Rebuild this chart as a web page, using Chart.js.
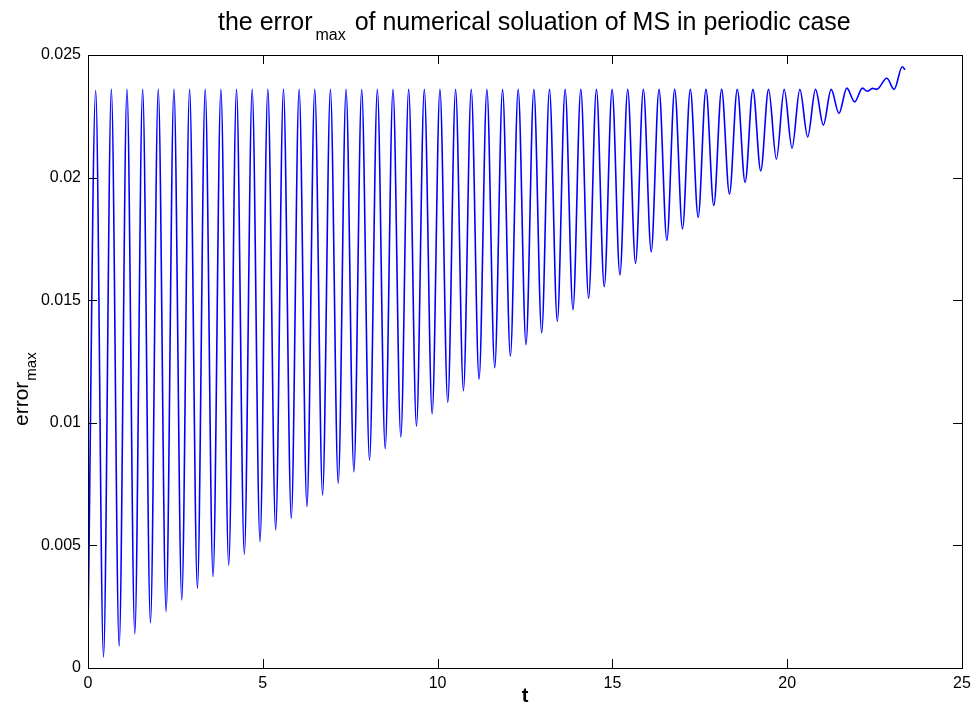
<!DOCTYPE html>
<html>
<head>
<meta charset="utf-8">
<script src="https://cdn.jsdelivr.net/npm/chart.js@4"></script>
<style>
  body { margin: 0; background: #fff; }
  #chart { display: block; }
</style>
</head>
<body>
<canvas id="chart" width="977" height="704"></canvas>
<script>
// extrema of error_max(t): start, then peak / trough pairs, then the tail
var tValues = [
  0,
  0.22, 0.444,  0.668, 0.892,  1.115, 1.339,  1.563, 1.787,  2.010, 2.234,
  2.458, 2.682,  2.906, 3.130,  3.353, 3.577,  3.801, 4.025,  4.248, 4.472,
  4.696, 4.920,  5.144, 5.368,  5.591, 5.815,  6.039, 6.263,  6.486, 6.710,
  6.934, 7.158,  7.382, 7.606,  7.829, 8.053,  8.277, 8.501,  8.724, 8.948,
  9.172, 9.396,  9.620, 9.844,  10.067, 10.291,  10.515, 10.739,  10.962, 11.186,
  11.410, 11.634,  11.858, 12.082,  12.305, 12.529,  12.753, 12.977,  13.200, 13.424,
  13.648, 13.872,  14.096, 14.320,  14.543, 14.767,  14.991, 15.215,  15.438, 15.662,
  15.886, 16.110,  16.334, 16.558,  16.781, 17.005,  17.229, 17.453,  17.676, 17.900,
  18.124, 18.348,  18.572, 18.796,  19.019, 19.243,  19.467, 19.691,  19.914, 20.138,
  20.362, 20.586,  20.810, 21.034,  21.257, 21.481,  21.705, 21.929,
  22.152, 22.29, 22.44, 22.56, 22.85, 23.06, 23.29, 23.37
];
var errorValues = [
  0.0015,
  0.02355, 0.00045,  0.0236, 0.00090,  0.0236, 0.00139,  0.0236, 0.00184,  0.0236, 0.00230,
  0.0236, 0.00278,  0.0236, 0.00326,  0.0236, 0.00373,  0.0236, 0.00420,  0.0236, 0.00464,
  0.0236, 0.00516,  0.0236, 0.00564,  0.0236, 0.00611,  0.0236, 0.00659,  0.0236, 0.00706,
  0.0236, 0.00753,  0.0236, 0.00800,  0.0236, 0.00847,  0.0236, 0.00895,  0.0236, 0.00942,
  0.0236, 0.00986,  0.0236, 0.01036,  0.0236, 0.01083,  0.0236, 0.01131,  0.0236, 0.01178,
  0.0236, 0.01225,  0.0236, 0.01272,  0.0236, 0.01319,  0.0236, 0.01367,  0.0236, 0.01414,
  0.0236, 0.01461,  0.0236, 0.01508,  0.0236, 0.01555,  0.0236, 0.01603,  0.0236, 0.01650,
  0.0236, 0.01697,  0.0236, 0.01744,  0.0236, 0.01791,  0.0236, 0.01839,  0.0236, 0.01886,
  0.0236, 0.01933,  0.0236, 0.01980,  0.0236, 0.02027,  0.0236, 0.02075,  0.0236, 0.02120,
  0.0236, 0.02166,  0.0236, 0.02214,  0.0236, 0.02262,  0.02365, 0.02309,
  0.02365, 0.02352, 0.02364, 0.02360, 0.02405, 0.02360, 0.02452, 0.02440
];
var xTicks = [0, 5, 10, 15, 20, 25];
var yTicks = [0, 0.005, 0.01, 0.015, 0.02, 0.025];

var FONT = "'Liberation Sans', Arial, Helvetica, sans-serif";

var points = [];
for (var i = 0; i < tValues.length; i++) {
    points.push({ x: tValues[i], y: errorValues[i] });
}

// box with inward ticks on all four sides, plus the title and axis labels
var matlabFrame = {
    id: 'matlabFrame',
    afterDraw: function (chart) {
        var ctx = chart.ctx;
        var a = chart.chartArea;
        var xs = chart.scales.x;
        var ys = chart.scales.y;
        var len = 9;
        ctx.save();
        ctx.strokeStyle = '#000';
        ctx.lineWidth = 1;
        ctx.strokeRect(Math.round(a.left) + 0.5, Math.round(a.top) + 0.5,
            Math.round(a.right - a.left), Math.round(a.bottom - a.top));
        ctx.beginPath();
        xs.ticks.forEach(function (t) {
            var px = Math.round(xs.getPixelForValue(t.value)) + 0.5;
            ctx.moveTo(px, a.bottom);
            ctx.lineTo(px, a.bottom - len);
            ctx.moveTo(px, a.top);
            ctx.lineTo(px, a.top + len);
        });
        ys.ticks.forEach(function (t) {
            var py = Math.round(ys.getPixelForValue(t.value)) + 0.5;
            ctx.moveTo(a.left, py);
            ctx.lineTo(a.left + len, py);
            ctx.moveTo(a.right, py);
            ctx.lineTo(a.right - len, py);
        });
        ctx.stroke();

        ctx.fillStyle = '#000';
        ctx.textBaseline = 'alphabetic';
        ctx.textAlign = 'left';

        // title with subscript
        var tx = 218, ty = 30;
        ctx.font = '25px ' + FONT;
        ctx.fillText('the error', tx, ty);
        tx += ctx.measureText('the error').width + 3;
        ctx.font = '16px ' + FONT;
        ctx.fillText('max', tx, ty + 10);
        tx += ctx.measureText('max').width + 2;
        ctx.font = '25px ' + FONT;
        ctx.fillText(' of numerical soluation of MS in periodic case', tx, ty);

        // y label, rotated
        ctx.save();
        ctx.translate(28, 426);
        ctx.rotate(-Math.PI / 2);
        ctx.font = '21px ' + FONT;
        ctx.fillText('error', 0, 0);
        var w = ctx.measureText('error').width + 1;
        ctx.font = '15px ' + FONT;
        ctx.fillText('max', w, 8);
        ctx.restore();

        // x label
        ctx.font = 'bold 20px ' + FONT;
        ctx.textAlign = 'center';
        ctx.fillText('t', (a.left + a.right) / 2, 702);
        ctx.restore();
    }
};

new Chart(document.getElementById('chart'), {
    type: 'line',
    data: {
        datasets: [{
            data: points,
            borderColor: '#0000ff',
            borderWidth: 1.6,
            pointRadius: 0,
            fill: false,
            cubicInterpolationMode: 'monotone'
        }]
    },
    options: {
        responsive: false,
        animation: false,
        devicePixelRatio: 1,
        layout: { padding: { left: 0, top: 55, right: 15, bottom: 0 } },
        plugins: {
            legend: { display: false },
            tooltip: { enabled: false }
        },
        scales: {
            x: {
                type: 'linear',
                min: 0,
                max: 25,
                grid: { display: false, drawTicks: false },
                border: { display: false },
                afterBuildTicks: function (scale) {
                    scale.ticks = xTicks.map(function (v) { return { value: v }; });
                },
                afterFit: function (scale) { scale.height = 36; },
                ticks: {
                    color: '#000',
                    padding: 6,
                    maxRotation: 0,
                    font: { family: FONT, size: 16 }
                }
            },
            y: {
                type: 'linear',
                min: 0,
                max: 0.025,
                grid: { display: false, drawTicks: false },
                border: { display: false },
                afterBuildTicks: function (scale) {
                    scale.ticks = yTicks.map(function (v) { return { value: v }; });
                },
                afterFit: function (scale) { scale.width = 88; },
                ticks: {
                    color: '#000',
                    padding: 7,
                    font: { family: FONT, size: 16 },
                    callback: function (v) { return String(Number(v.toFixed(4))); }
                }
            }
        }
    },
    plugins: [matlabFrame]
});
</script>
</body>
</html>
